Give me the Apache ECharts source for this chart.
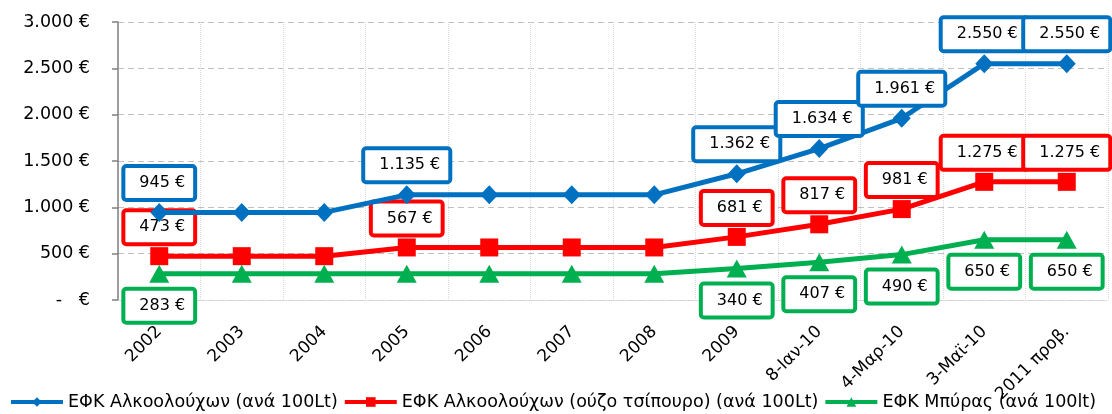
<!DOCTYPE html>
<html><head><meta charset="utf-8">
<script src="https://cdn.jsdelivr.net/npm/echarts@6/dist/echarts.min.js"></script>
<style>html,body{margin:0;padding:0;background:#fff}#c{width:1112px;height:414px}</style>
</head><body><div id="c"></div>
<script>
const categories = ['2002','2003','2004','2005','2006','2007','2008','2009','8-Ιαν-10','4-Μαρ-10','3-Μαϊ-10','2011 προβ.'];
const alcohol = [945,945,945,1135,1135,1135,1135,1362,1634,1961,2550,2550];
const ouzo = [473,473,473,567,567,567,567,681,817,981,1275,1275];
const beer = [283,283,283,283,283,283,283,340,407,490,650,650];
const alcoholLabeled = [0,3,7,8,9,10,11];
const ouzoLabeled = [0,3,7,8,9,10,11];
const beerLabeled = [0,7,8,9,10,11];
const seriesNames = ['ΕΦΚ Αλκοολούχων (ανά 100Lt)','ΕΦΚ Αλκοολούχων (ούζο τσίπουρο) (ανά 100Lt)','ΕΦΚ Μπύρας (ανά 100lt)'];

const FONT = 'DejaVu Sans';
function fmt(v){ return v === 0 ? '-   €' : String(v).replace(/\B(?=(\d{3})+(?!\d))/g,'.') + ' €'; }
function mk(vals, labeled){
  return vals.map((v,i)=>({value:v,label:{show:labeled.includes(i)}}));
}
function labelCfg(color,pos,dist){
  return {position:pos,distance:dist,formatter:p=>fmt(p.value),color:'#000',fontFamily:FONT,fontSize:16,lineHeight:20,
    backgroundColor:'#fff',borderColor:color,borderWidth:4,borderRadius:1,padding:[5,8,5,14]};
}
const chart = echarts.init(document.getElementById('c'));
chart.setOption({
  animation:false,
  textStyle:{fontFamily:FONT},
  grid:{left:118,right:4,top:22,bottom:114,containLabel:false},
  legend:{bottom:-2,left:4,right:0,itemWidth:52,itemHeight:12,itemGap:5,
    lineStyle:{width:4},
    textStyle:{fontFamily:FONT,fontSize:17.55,color:'#000'},
    data:seriesNames},
  xAxis:{type:'category',data:categories,boundaryGap:true,
    axisLine:{lineStyle:{color:'#d9d9d9',type:'dotted'}},axisTick:{show:false},
    axisLabel:{rotate:45,fontFamily:FONT,fontSize:17,color:'#000',margin:29,interval:0},
    splitLine:{show:true,interval:0,lineStyle:{color:'#d9d9d9',type:'dotted'}}},
  yAxis:{type:'value',min:0,max:3000,interval:500,
    axisLine:{show:true,lineStyle:{color:'#808080',width:1.5}},
    axisTick:{show:true,length:6,lineStyle:{color:'#808080',width:1.5}},
    axisLabel:{formatter:fmt,fontFamily:FONT,fontSize:17.5,color:'#000',margin:28},
    splitLine:{lineStyle:{color:'#c0c0c0',type:[6,4]}}},
  series:[
    {name:seriesNames[0],type:'line',data:mk(alcohol,alcoholLabeled),symbol:'diamond',symbolSize:[18,19],
      itemStyle:{color:'#0070C0'},lineStyle:{width:5,color:'#0070C0'},label:labelCfg('#0070C0','top',5),z:3},
    {name:seriesNames[1],type:'line',data:mk(ouzo,ouzoLabeled),symbol:'rect',symbolSize:18,
      itemStyle:{color:'#FF0000'},lineStyle:{width:5,color:'#FF0000'},label:labelCfg('#FF0000','top',5),z:2},
    {name:seriesNames[2],type:'line',data:mk(beer,beerLabeled),symbol:'triangle',symbolSize:[20,18],
      itemStyle:{color:'#00B050'},lineStyle:{width:5,color:'#00B050'},label:labelCfg('#00B050','bottom',8),z:1}
  ]
});
</script></body></html>
